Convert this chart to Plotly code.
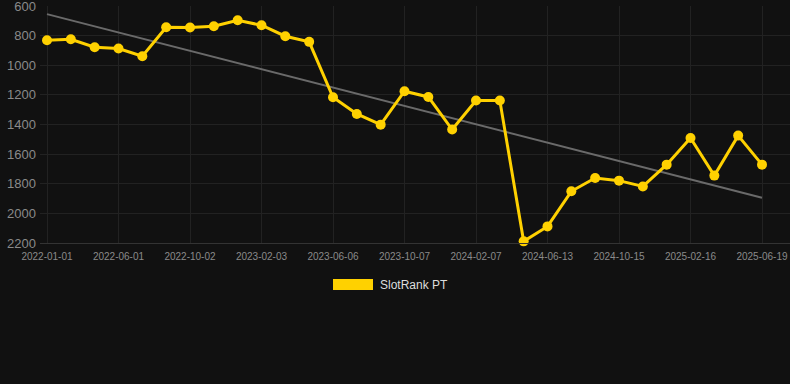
import plotly.graph_objects as go

dates = ["2022-01-01", "2022-02-20", "2022-04-11", "2022-06-01", "2022-07-12", "2022-08-22",
         "2022-10-02", "2022-11-12", "2022-12-23", "2023-02-03", "2023-03-16", "2023-04-26",
         "2023-06-06", "2023-07-17", "2023-08-27", "2023-10-07", "2023-11-17", "2023-12-28",
         "2024-02-07", "2024-03-20", "2024-05-01", "2024-06-13", "2024-07-24", "2024-09-04",
         "2024-10-15", "2024-11-25", "2025-01-06", "2025-02-16", "2025-03-29", "2025-05-09",
         "2025-06-19"]
rank = [831, 825, 878, 887, 939, 743, 745, 737, 696, 730, 804, 842,
        1216, 1329, 1401, 1175, 1214, 1434, 1238, 1238, 2189, 2088, 1851, 1761,
        1779, 1818, 1671, 1491, 1745, 1475, 1671]
trend_x = [dates[0], dates[-1]]
trend_y = [655, 1895]
tick_labels = dates[::3]
y_ticks = [600, 800, 1000, 1200, 1400, 1600, 1800, 2000, 2200]
series_name = "SlotRank PT"

W, H = 790, 384
ml, mr, mt, mb = 40, 0, 6, 141
pw, ph = W - ml - mr, H - mt - mb
step = 23.83

fig = go.Figure()
fig.add_trace(go.Scatter(x=trend_x, y=trend_y, mode="lines",
                         line=dict(color="#6a6a6a", width=2), showlegend=False,
                         hoverinfo="skip"))
fig.add_trace(go.Scatter(x=dates, y=rank, mode="lines+markers", name=series_name,
                         line=dict(color="#FFD100", width=3), cliponaxis=False,
                         marker=dict(color="#FFD100", size=10), showlegend=False))

def px_x(p):
    return (p - ml) / pw

def px_y(p):
    return (H - mb - p) / ph

fig.add_shape(type="rect", xref="paper", yref="paper",
              x0=px_x(333), x1=px_x(373), y0=px_y(290), y1=px_y(279),
              fillcolor="#FFD100", line=dict(width=0))
fig.add_annotation(text=series_name, xref="paper", yref="paper",
                   x=px_x(378), y=px_y(284.5), xanchor="left", yanchor="middle",
                   showarrow=False, font=dict(color="#dddddd", size=12))

fig.update_layout(
    width=W, height=H,
    margin=dict(l=ml, r=mr, t=mt, b=mb),
    paper_bgcolor="#111111", plot_bgcolor="#111111",
    font=dict(family="Liberation Sans, Arial, sans-serif", color="#888888"),
    xaxis=dict(type="category", categoryorder="array", categoryarray=dates,
               range=[-7 / step, 30 + 28 / step],
               tickmode="array", tickvals=tick_labels, ticktext=tick_labels,
               tickfont=dict(size=10, color="#8a8a8a"), ticklabeloverflow="allow",
               showgrid=True, gridcolor="#222222", gridwidth=1,
               showline=True, linecolor="#333333", linewidth=1,
               ticks="", ticklabelstandoff=4,
               zeroline=False, fixedrange=True),
    yaxis=dict(range=[2200, 600], tickmode="array", tickvals=y_ticks,
               tickfont=dict(size=13, color="#8a8a8a"), ticklabeloverflow="allow",
               showgrid=True, gridcolor="#222222", gridwidth=1,
               zeroline=False, showline=False, ticks="", ticklabelstandoff=3),
    showlegend=False,
)

fig.write_html("out.html", config={"displayModeBar": False},
               post_script="document.body.style.margin='0';document.body.style.background='#111111';")
